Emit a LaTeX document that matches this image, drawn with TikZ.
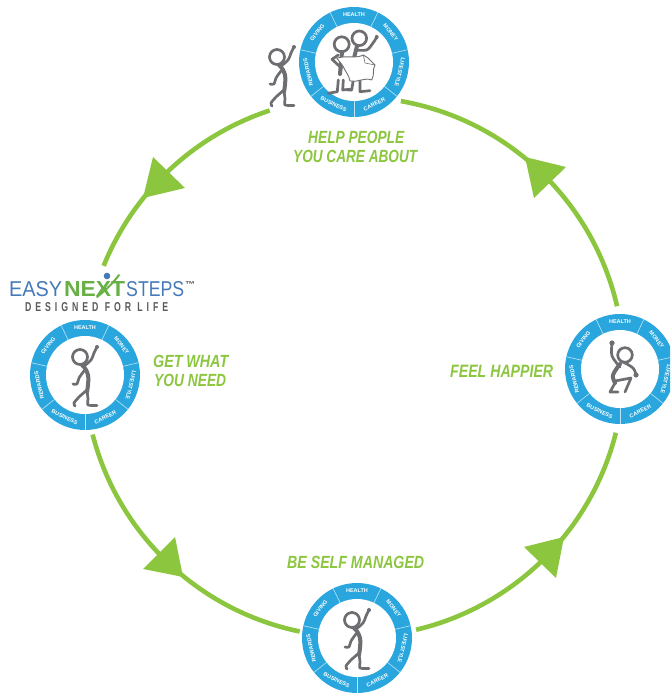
\documentclass[tikz,border=0pt]{standalone}
\usepackage{fontspec}
\setmainfont{Liberation Sans}
\usetikzlibrary{calc}
\definecolor{leaf}{HTML}{8CC63F}
\definecolor{ringblue}{HTML}{2AA6DE}
\definecolor{figgray}{HTML}{6D6E71}
\definecolor{logoblue}{HTML}{4679B8}
\definecolor{logogreen}{HTML}{68B045}
\definecolor{logogray}{HTML}{58595B}
\tikzset{
  ringdisc/.style={circle,fill=ringblue,minimum size=110pt,inner sep=0pt,outer sep=0pt},
  ringhole/.style={circle,fill=white,minimum size=78pt,inner sep=0pt},
  divider/.style={draw=white!70!ringblue,line width=.6pt},
  ringlabel/.style={text=white,font=\fontsize{5.5}{6}\selectfont\bfseries,inner sep=0pt},
  conn/.style={draw=leaf,line width=4.6pt},
  headtip/.style={fill=leaf},
  fig/.style={draw=figgray,line width=2.7pt,line cap=round,line join=round},
  figthick/.style={fig,line width=4pt},
  caption/.style={text=leaf,inner sep=0pt,anchor=south west,font=\bfseries\itshape},
  logotext/.style={inner sep=0pt,anchor=south west},
}
\newcommand{\fitbox}[3]{\resizebox{#1pt}{#2pt}{#3}}
\newcommand{\ringat}[3]{%
  \node[ringdisc] (#1) at (#2,#3) {};
  \foreach \a in {64.3,12.9,-38.6,-90,-141.4,-192.9,-244.3}
    \draw[divider] ($(#1)+(\a:39)$) -- ($(#1)+(\a:55)$);
  \node[ringhole] (#1hole) at (#1) {};
  \foreach \w/\c/\r in {HEALTH/90/0,MONEY/38.6/-51.4,LIFESTYLE/-12.9/-102.9,CAREER/-64.3/25.7,BUSINESS/-115.7/-25.7,REWARDS/-167.1/102.9,GIVING/141.4/51.4}
    \node[ringlabel,rotate=\r] (#1\w) at ($(#1)+(\c:47)$) {\w};
}
\newcommand{\person}[2]{%
  \begin{scope}[shift={(#1,#2)}]
    \draw[fig] (-5,18) circle (7.5);
    \draw[fig] plot[smooth,tension=.7] coordinates {(-1,9) (6,15) (9,22) (12,28)};
    \fill[figgray] (12,28) circle (2);
    \draw[figthick] plot[smooth,tension=.8] coordinates {(-3,10) (3,0) (2,-17)};
    \draw[fig] plot[smooth,tension=.6] coordinates {(-1,4) (-6,-3) (-8,-9) (-12,-9)};
    \draw[fig] plot[smooth,tension=.5] coordinates {(2,-15) (-6,-22) (-11,-28) (-10,-31)};
    \draw[fig] plot[smooth,tension=.4] coordinates {(2,-16) (3,-24) (3,-30) (12,-30.5)};
  \end{scope}%
}
\begin{document}
\begin{tikzpicture}[x=1pt,y=1pt]
\useasboundingbox (0,0) rectangle (670,693);
\clip (0,0) rectangle (670,693);
\coordinate (hub) at (354,326);
% connector ends on the big circle
\coordinate (a1) at ($(hub)+(-76.7:270)$);
\coordinate (b1) at ($(hub)+(13:270)$);
\coordinate (c1) at ($(hub)+(108.2:270)$);
\coordinate (d1) at ($(hub)+(194.5:270)$);
\draw[conn] (a1) arc[start angle=-76.7,end angle=-14.1,radius=270pt];
\draw[conn] (b1) arc[start angle=13,end angle=80,radius=270pt];
\draw[conn] (c1) arc[start angle=108.2,end angle=158,radius=270pt];
\draw[conn] (d1) arc[start angle=194.5,end angle=258.4,radius=270pt];
% arrowheads
\fill[headtip] (566,526) -- (525,536) -- (534,495) -- cycle;
\fill[headtip] (564,156) -- (524,146) -- (556,115) -- cycle;
\fill[headtip] (143,495) -- (153,536) -- (185,505) -- cycle;
\fill[headtip] (183,116) -- (175,156) -- (143,124) -- cycle;
% rings
\ringat{top}{354}{631}
\ringat{left}{85}{318}
\ringat{right}{620}{324}
\ringat{bottom}{357}{55}
% figures
\person{282}{618}
\person{85}{318}
\person{357}{55}
% jumping figure
\begin{scope}[shift={(right)}]
  \draw[fig] (5,14) circle (7.3);
  \draw[fig] plot[smooth,tension=.6] coordinates {(0,2) (-8,13) (-8,25)};
  \fill[figgray] (-8,26) circle (2.6);
  \draw[fig] plot[smooth,tension=.6] coordinates {(3,7) (13,1) (16,-6)};
  \fill[figgray] (16,-6) circle (2.6);
  \draw[figthick] plot[smooth,tension=.6] coordinates {(0,5) (-7,-6) (-5,-14)};
  \draw[fig] (-5,-14) -- (-10,-23) -- (-2,-23);
  \draw[fig] (-5,-12) -- (11,-9) -- (5,-23);
\end{scope}
% two figures with the map
\begin{scope}[shift={(top)}]
  \draw[fig] (-15.7,-18) -- (-16.7,-29.7) -- (-25.7,-31.3);
  \draw[fig] (-10.7,-18) -- (-11.3,-28) -- (-4,-27.3);
  \draw[fig] (-0.7,-18) -- (-2.3,-28) -- (-6,-28);
  \draw[fig] (6,-18) -- (6,-29.7) -- (16,-28.7);
  \draw[fig] (-12.3,17.7) circle (7.5);
  \draw[fig] (5.3,23.7) circle (7.3);
  \draw[figthick] (-12,10) -- (-14,-12);
  \draw[figthick] (3,16) -- (0,4);
  \draw[fig] plot[smooth,tension=.5] coordinates {(1,12) (12.7,12) (19,19) (22.7,24.7)};
  \fill[figgray] (22.7,25) circle (2);
  \fill[white,draw=figgray,line width=.9pt,line join=round] (-17.3,3.7) .. controls (-8,7) and (2,3) .. (9.3,7) -- (14,4) -- (21,-3) .. controls (18,-8) and (21,-12) .. (17.7,-18) .. controls (10,-15) and (3,-21) .. (-4,-19) .. controls (-5,-13) and (-9,-9) .. (-10.7,-4.7) .. controls (-13,-1) and (-15,1) .. (-17.3,3.7) -- cycle;
  \draw[figgray,line width=.6pt] (9.3,7) -- (11,-1) -- (21,-3);
  \draw[fig] (-15.7,7) -- (-22,2.7) -- (-12.3,-6.3);
\end{scope}
% captions
\node[caption] (helpa) at (308,549) {\fitbox{96}{12.3}{HELP PEOPLE}};
\node[caption] (helpb) at (293,530) {\fitbox{124}{12.3}{YOU CARE ABOUT}};
\node[caption] (geta) at (153,325) {\fitbox{75}{12.3}{GET WHAT}};
\node[caption] (getb) at (154,306) {\fitbox{72}{12.3}{YOU NEED}};
\node[caption] (feel) at (450,315.5) {\fitbox{103}{12.3}{FEEL HAPPIER}};
\node[caption] (self) at (287,124) {\fitbox{137}{12.3}{BE SELF MANAGED}};
% logo
\draw[logogreen,line width=2pt,line cap=round] (97,396) .. controls (106,403) and (113,410) .. (119,418);
\fill[logoblue] (107,417) circle (3.3);
\node[logotext,text=logoblue] (easy) at (9,396) {\fitbox{53}{15}{EASY}};
\node[logotext,text=logogreen,font=\bfseries] (next) at (64,396) {\fitbox{61}{15}{NEXT}};
\node[logotext,text=logoblue] (steps) at (126,396) {\fitbox{58}{15}{STEPS}};
\node[logotext,text=logogray,font=\bfseries] (tm) at (185,405) {\fitbox{10}{6}{™}};
\node[logotext,text=logogray,font=\bfseries] (tagline) at (25,381) {\fitbox{143}{9}{\addfontfeature{LetterSpace=45}DESIGNED FOR LIFE}};
\end{tikzpicture}
\end{document}
